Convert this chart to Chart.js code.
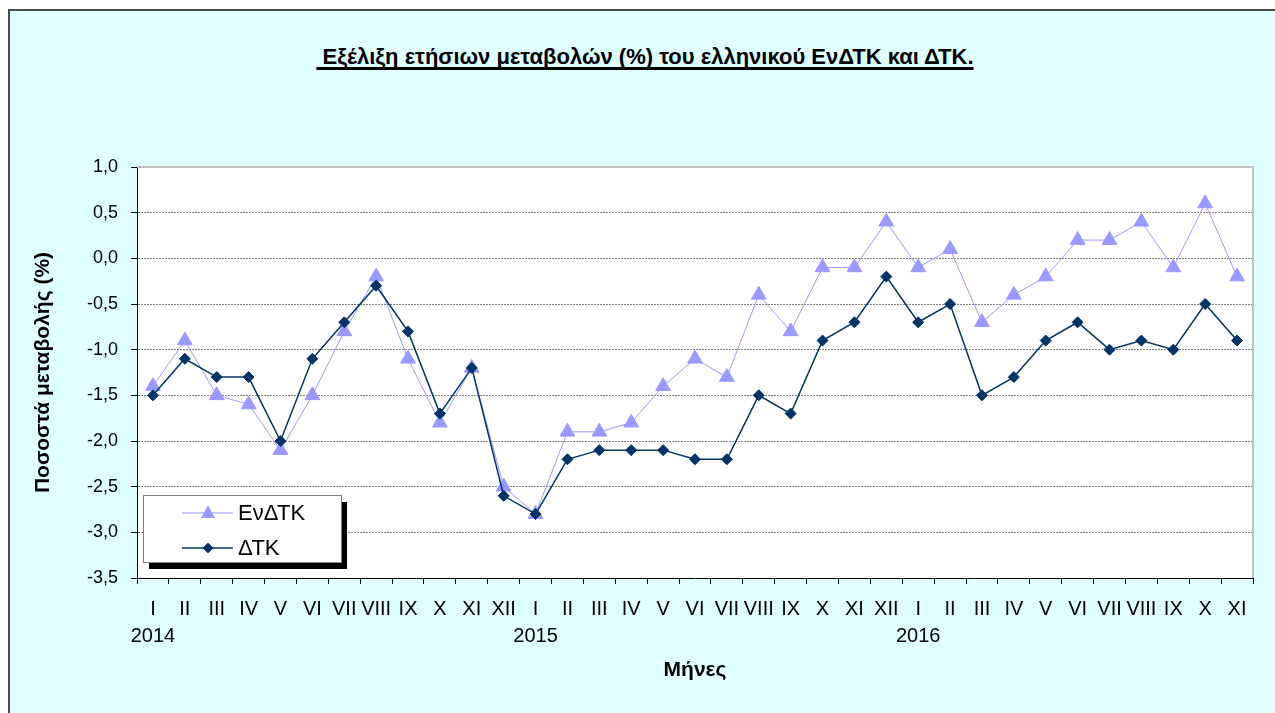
<!DOCTYPE html>
<html>
<head>
<meta charset="utf-8">
<script src="https://cdn.jsdelivr.net/npm/chart.js"></script>
<style>
html, body { margin: 0; padding: 0; background: #fff; overflow: hidden; }
#frame {
    position: absolute; left: 8px; top: 9px; width: 1300px; height: 720px;
    background: #e0ffff; border-top: 2px solid #4a4a4a; border-left: 2px solid #4a4a4a;
}
#title {
    position: absolute; left: 0; top: 44px; width: 1290px; text-align: center;
    font: bold 22px "Liberation Sans", Arial, sans-serif; color: #000;
    text-decoration: underline; text-decoration-thickness: 3px; text-underline-offset: 3px;
    text-decoration-skip-ink: none;
}
#wrap { position: absolute; left: 0; top: 0; width: 1275px; height: 713px; }
</style>
</head>
<body>
<div id="frame"></div>
<div id="title">&nbsp;Εξέλιξη ετήσιων μεταβολών (%) του ελληνικού ΕνΔΤΚ και ΔΤΚ.</div>
<div id="wrap"><canvas id="chart"></canvas></div>
<script>
const MONTHS = ['I','II','III','IV','V','VI','VII','VIII','IX','X','XI','XII'];
const YEARS  = ['2014', '2015', '2016'];
const MONTH_COUNT = 35; // I 2014 .. XI 2016

const hicp = [ // ΕνΔΤΚ
    -1.4, -0.9, -1.5, -1.6, -2.1, -1.5, -0.8, -0.2, -1.1, -1.8, -1.2, -2.5,
    -2.8, -1.9, -1.9, -1.8, -1.4, -1.1, -1.3, -0.4, -0.8, -0.1, -0.1,  0.4,
    -0.1,  0.1, -0.7, -0.4, -0.2,  0.2,  0.2,  0.4, -0.1,  0.6, -0.2
];
const cpi = [ // ΔΤΚ
    -1.5, -1.1, -1.3, -1.3, -2.0, -1.1, -0.7, -0.3, -0.8, -1.7, -1.2, -2.6,
    -2.8, -2.2, -2.1, -2.1, -2.1, -2.2, -2.2, -1.5, -1.7, -0.9, -0.7, -0.2,
    -0.7, -0.5, -1.5, -1.3, -0.9, -0.7, -1.0, -0.9, -1.0, -0.5, -0.9
];

const Y_MIN = -3.5, Y_MAX = 1.0, Y_STEP = 0.5;
const FONT = '"Liberation Sans", Arial, sans-serif';
const HICP_COLOR = '#9999ff';
const CPI_COLOR  = '#003366';

const labels = [];
for (let i = 0; i < MONTH_COUNT; i++) {
    const m = MONTHS[i % 12];
    labels.push(i % 12 === 0 ? [m, YEARS[i / 12]] : m);
}

const plotPlugin = {
    id: 'plotDeco',
    beforeDraw(chart) {
        const { ctx, chartArea: a } = chart;
        ctx.save();
        ctx.fillStyle = '#ffffff';
        ctx.fillRect(a.left, a.top, a.right - a.left, a.bottom - a.top);
        ctx.restore();
    },
    beforeDatasetsDraw(chart) {
        const { ctx, chartArea: a } = chart;
        ctx.save();
        ctx.strokeStyle = '#c0c0c0';
        ctx.lineWidth = 2;
        ctx.beginPath();
        ctx.moveTo(a.left, a.top);
        ctx.lineTo(a.right, a.top);
        ctx.lineTo(a.right, a.bottom);
        ctx.stroke();
        ctx.restore();
    },
    afterDraw(chart) {
        // legend box, bottom-left inside plot
        const { ctx, chartArea: a } = chart;
        const x = a.left + 6, y = a.bottom - 83, w = 198, h = 67;
        ctx.save();
        ctx.fillStyle = '#000';
        ctx.fillRect(x + 6, y + 7, w, h);
        ctx.fillStyle = '#fff';
        ctx.fillRect(x, y, w, h);
        ctx.strokeStyle = '#808080';
        ctx.lineWidth = 1;
        ctx.strokeRect(x + 0.5, y + 0.5, w, h);

        const rows = [
            { text: 'ΕνΔΤΚ', color: HICP_COLOR, lw: 1, shape: 'tri', cy: y + 18 },
            { text: 'ΔΤΚ', color: CPI_COLOR, lw: 1.5, shape: 'dia', cy: y + 53 }
        ];
        rows.forEach(r => {
            ctx.strokeStyle = r.color;
            ctx.lineWidth = r.lw;
            ctx.beginPath();
            ctx.moveTo(x + 39, r.cy);
            ctx.lineTo(x + 90, r.cy);
            ctx.stroke();
            const mx = x + 65;
            ctx.fillStyle = r.color;
            ctx.beginPath();
            if (r.shape === 'tri') {
                ctx.moveTo(mx, r.cy - 8);
                ctx.lineTo(mx + 7, r.cy + 5);
                ctx.lineTo(mx - 7, r.cy + 5);
            } else {
                ctx.moveTo(mx, r.cy - 5.5);
                ctx.lineTo(mx + 5.5, r.cy);
                ctx.lineTo(mx, r.cy + 5.5);
                ctx.lineTo(mx - 5.5, r.cy);
            }
            ctx.closePath();
            ctx.fill();
            ctx.fillStyle = '#000';
            ctx.font = '22px ' + FONT;
            ctx.textBaseline = 'middle';
            ctx.fillText(r.text, x + 95, r.cy + 1);
        });
        ctx.restore();
    }
};

new Chart(document.getElementById('chart'), {
    type: 'line',
    data: {
        labels,
        datasets: [
            {
                label: 'ΕνΔΤΚ',
                data: hicp,
                borderColor: HICP_COLOR,
                backgroundColor: HICP_COLOR,
                borderWidth: 1,
                pointStyle: 'triangle',
                pointRadius: 8.5,
                pointBorderWidth: 1,
                tension: 0,
                order: 1
            },
            {
                label: 'ΔΤΚ',
                data: cpi,
                borderColor: CPI_COLOR,
                backgroundColor: CPI_COLOR,
                borderWidth: 1.5,
                pointStyle: 'rectRot',
                pointRadius: 5.5,
                pointBorderWidth: 1,
                tension: 0,
                order: 0
            }
        ]
    },
    options: {
        responsive: true,
        maintainAspectRatio: false,
        animation: false,
        layout: { padding: { top: 167, right: 22, left: 0, bottom: 0 } },
        plugins: {
            legend: { display: false },
            tooltip: { enabled: false },
            title: { display: false }
        },
        scales: {
            x: {
                offset: true,
                grid: {
                    offset: true, drawOnChartArea: false, drawTicks: true,
                    tickLength: 6, tickColor: '#000'
                },
                border: { color: '#000', width: 1 },
                ticks: {
                    autoSkip: false, maxRotation: 0, minRotation: 0,
                    color: '#000', padding: 12,
                    font: { family: FONT, size: 20, lineHeight: 1.35 }
                },
                title: {
                    display: true, text: 'Μήνες', color: '#000',
                    font: { family: FONT, size: 21, weight: 'bold' },
                    padding: { top: 0, bottom: 30 }
                },
                afterFit: s => { s.height = 135; }
            },
            y: {
                min: Y_MIN, max: Y_MAX,
                grid: {
                    color: c => (c.tick && c.tick.value === Y_MAX) ? 'rgba(0,0,0,0)' : '#808080',
                    lineWidth: 1, tickLength: 6, tickColor: '#000', tickBorderDash: []
                },
                border: { color: '#000', width: 1, dash: [2, 1] },
                ticks: {
                    stepSize: Y_STEP, color: '#000', padding: 13,
                    font: { family: FONT, size: 18 },
                    callback: v => v.toFixed(1).replace('.', ',')
                },
                title: {
                    display: true, text: 'Ποσοστά μεταβολής (%)', color: '#000',
                    font: { family: FONT, size: 21, weight: 'bold' },
                    padding: { top: 31, bottom: 0 }
                },
                afterFit: s => { s.width = 137; }
            }
        }
    },
    plugins: [plotPlugin]
});
</script>
</body>
</html>
